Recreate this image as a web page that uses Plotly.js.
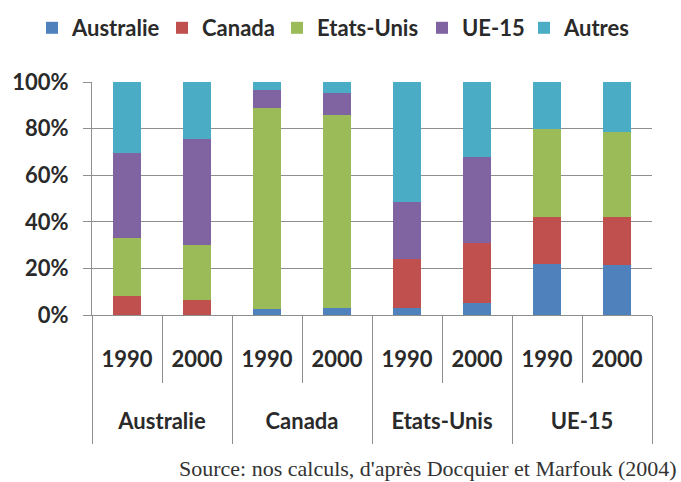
<!DOCTYPE html>
<html>
<head>
<meta charset="utf-8">
<script src="https://cdn.plot.ly/plotly-3.0.1.min.js"></script>
<style>
  html, body { margin: 0; padding: 0; background: #ffffff; }
  #chart { width: 681px; height: 482px; }
</style>
</head>
<body>
<div id="chart"></div>
<script>
// Destination countries (outer level) and census years (inner level)
const groups = ['Australie', 'Australie', 'Canada', 'Canada', 'Etats-Unis', 'Etats-Unis', 'UE-15', 'UE-15'];
const years  = ['1990', '2000', '1990', '2000', '1990', '2000', '1990', '2000'];

// Share (%) of each origin in the emigrant stock of each destination
const australie = [0, 0, 2.5, 3, 3, 5.3, 22, 21.5];
const canada    = [8, 6.5, 0, 0, 21, 25.4, 20, 20.5];
const etatsUnis = [25, 23.5, 86.5, 83, 0, 0, 38, 36.5];
const ue15      = [36.5, 45.5, 7.7, 9.3, 24.7, 36.9, 0, 0];
const autres    = [30.5, 24.5, 3.3, 4.7, 51.3, 32.4, 20, 21.5];

const seriesNames  = ['Australie', 'Canada', 'Etats-Unis', 'UE-15', 'Autres'];
const seriesValues = [australie, canada, etatsUnis, ue15, autres];
const seriesColors = ['#4F81BD', '#C0504D', '#9BBB59', '#8064A2', '#4BACC6'];

// Left edge (px) of each legend entry along the top row
const legendLefts = [32, 162, 277, 422, 524];

const sourceNote = "Source: nos calculs, d'après Docquier et Marfouk (2004)";

// Year labels get two blank lines underneath so that the country row
// sits lower, leaving room for the tall boundary ticks.
const yearLabels = years.map(y => y + '<br>\u00a0<br>\u00a0');
// A tall invisible space on each side of the country names deepens the
// label box, which lengthens the group dividers below the names.
const deepSpace = '<span style="font-size:70px">\u00a0</span>';
const groupLabels = groups.map(g => deepSpace + g + deepSpace);

const labelFont = 'Lato, "Open Sans", sans-serif';
const textColor = '#2a2a2a';
const lineGray = '#8e8e8e';

const traces = seriesNames.map((name, i) => ({
  type: 'bar',
  name: name,
  legend: i === 0 ? 'legend' : 'legend' + (i + 1),
  x: [groupLabels, yearLabels],
  y: seriesValues[i],
  marker: { color: seriesColors[i], line: { width: 0 } },
  hoverinfo: 'name+y'
}));

const layout = {
  width: 681,
  height: 482,
  margin: { l: 92, r: 29, t: 82, b: 167, pad: 0, autoexpand: false },
  paper_bgcolor: '#ffffff',
  plot_bgcolor: '#ffffff',
  barmode: 'stack',
  bargap: 0.59,
  font: { family: labelFont, color: textColor, size: 22 },
  showlegend: true,
  xaxis: {
    type: 'multicategory',
    showline: true,
    linecolor: lineGray,
    linewidth: 1,
    showgrid: false,
    ticks: 'outside',
    tickson: 'boundaries',
    ticklen: 67,
    tickcolor: lineGray,
    tickwidth: 1,
    ticklabelstandoff: 25,
    showdividers: true,
    dividercolor: lineGray,
    dividerwidth: 1,
    tickfont: { family: labelFont, size: 22, color: textColor, weight: 'bold' },
    fixedrange: true
  },
  yaxis: {
    range: [0, 100],
    dtick: 20,
    tick0: 0,
    ticksuffix: '%',
    showgrid: true,
    gridcolor: lineGray,
    gridwidth: 1,
    zeroline: false,
    showline: true,
    linecolor: lineGray,
    linewidth: 1,
    ticks: 'outside',
    ticklen: 8,
    tickcolor: lineGray,
    ticklabelstandoff: 10,
    tickfont: { family: labelFont, size: 22, color: textColor, weight: 'bold' },
    fixedrange: true
  },
  annotations: [{
    text: sourceNote,
    xref: 'paper', yref: 'paper',
    x: (679 - 92) / 560, xanchor: 'right',
    y: (315 - 468) / 233, yanchor: 'middle',
    showarrow: false,
    font: { family: '"Liberation Serif", "DejaVu Serif", serif', size: 22, color: '#333333' }
  }]
};

// One single-entry legend per series so each entry sits at its own spot
legendLefts.forEach((left, i) => {
  layout[i === 0 ? 'legend' : 'legend' + (i + 1)] = {
    orientation: 'h',
    xref: 'container', yref: 'container',
    x: left / 681, xanchor: 'left',
    y: 1 - 7 / 482, yanchor: 'top',
    font: { family: labelFont, size: 22, color: textColor, weight: 'bold' },
    itemclick: false,
    itemdoubleclick: false,
    borderwidth: 0,
    bgcolor: 'rgba(0,0,0,0)'
  };
});

Plotly.newPlot('chart', traces, layout, { displayModeBar: false, staticPlot: true });
</script>
</body>
</html>
